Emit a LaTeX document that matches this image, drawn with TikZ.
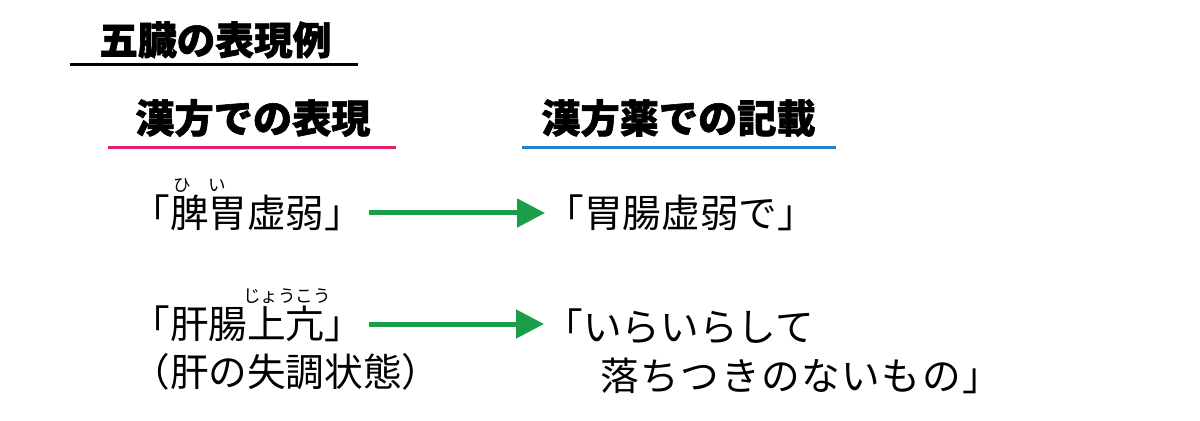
\documentclass[tikz,border=0pt]{standalone}
\usepackage{fontspec}
\setmainfont{Noto Sans CJK JP}[BoldFeatures={FakeBold=1.5}]
\usetikzlibrary{arrows.meta,positioning}

\definecolor{arrgreen}{HTML}{1A9E4A}
\definecolor{rulepink}{HTML}{E0236E}
\definecolor{ruleblue}{HTML}{2383C8}

\tikzset{
  titletext/.style={inner sep=0pt, anchor=west, font=\fontsize{22}{26}\selectfont\bfseries},
  headtext/.style={inner sep=0pt, anchor=west, font=\fontsize{22.3}{26}\selectfont\bfseries},
  bodytext/.style={inner sep=0pt, anchor=west, align=left, font=\fontsize{22}{27.9}\selectfont},
  rubytext/.style={inner sep=0pt, font=\fontsize{10}{12}\selectfont},
  headrule/.style={line width=0.06cm},
  arr/.style={-{Triangle[length=0.56cm,width=0.56cm]}, arrgreen, line width=0.1cm}
}

\begin{document}
\begin{tikzpicture}[x=1cm, y=1cm, node distance=0.96cm, on grid]
   \useasboundingbox (0,0) rectangle (24,8.4);

   % headings
   \node[titletext] (title) at (1.98,7.6) {五臓の表現例};
   \draw[headrule] (1.4,7.1) -- (7.16,7.1);
   \node[headtext] (kanpo) at (2.7,6.04) {漢方での表現};
   \node[headtext] (yaku) at (10.82,6.04) {漢方薬での記載};
   \draw[headrule, rulepink] (2.16,5.44) -- (7.92,5.44);
   \draw[headrule, ruleblue] (10.44,5.44) -- (16.72,5.44);

   % first row
   \node[bodytext] (hi) at (2.62,4.14) {「脾胃虚弱」};
   \node[rubytext] (hiruby) at (4.0,4.7) {ひ　い};
   \node[bodytext] (ichou) at (10.9,4.14) {「胃腸虚弱で」};

   % second row
   \node[bodytext] (kan) at (2.62,1.92) {「肝腸上亢」};
   \node[rubytext] (kanruby) at (5.74,2.48) {じょうこう};
   \node[bodytext] (kanb) [below=of kan.west, anchor=west] {（肝の失調状態）};
   \node[bodytext] (iraira) at (10.88,1.38)
      {「いらいらして\\\hspace*{1.45em}{\addfontfeature{LetterSpace=4}落ちつきのないもの」}};

   \draw[arr, shorten <=0.1cm, shorten >=0.0cm] (hi.east) -- (hi.east -| ichou.west);
   \draw[arr, shorten <=0.1cm, shorten >=0.0cm] (kan.east) -- (kan.east -| iraira.west);
\end{tikzpicture}
\end{document}
